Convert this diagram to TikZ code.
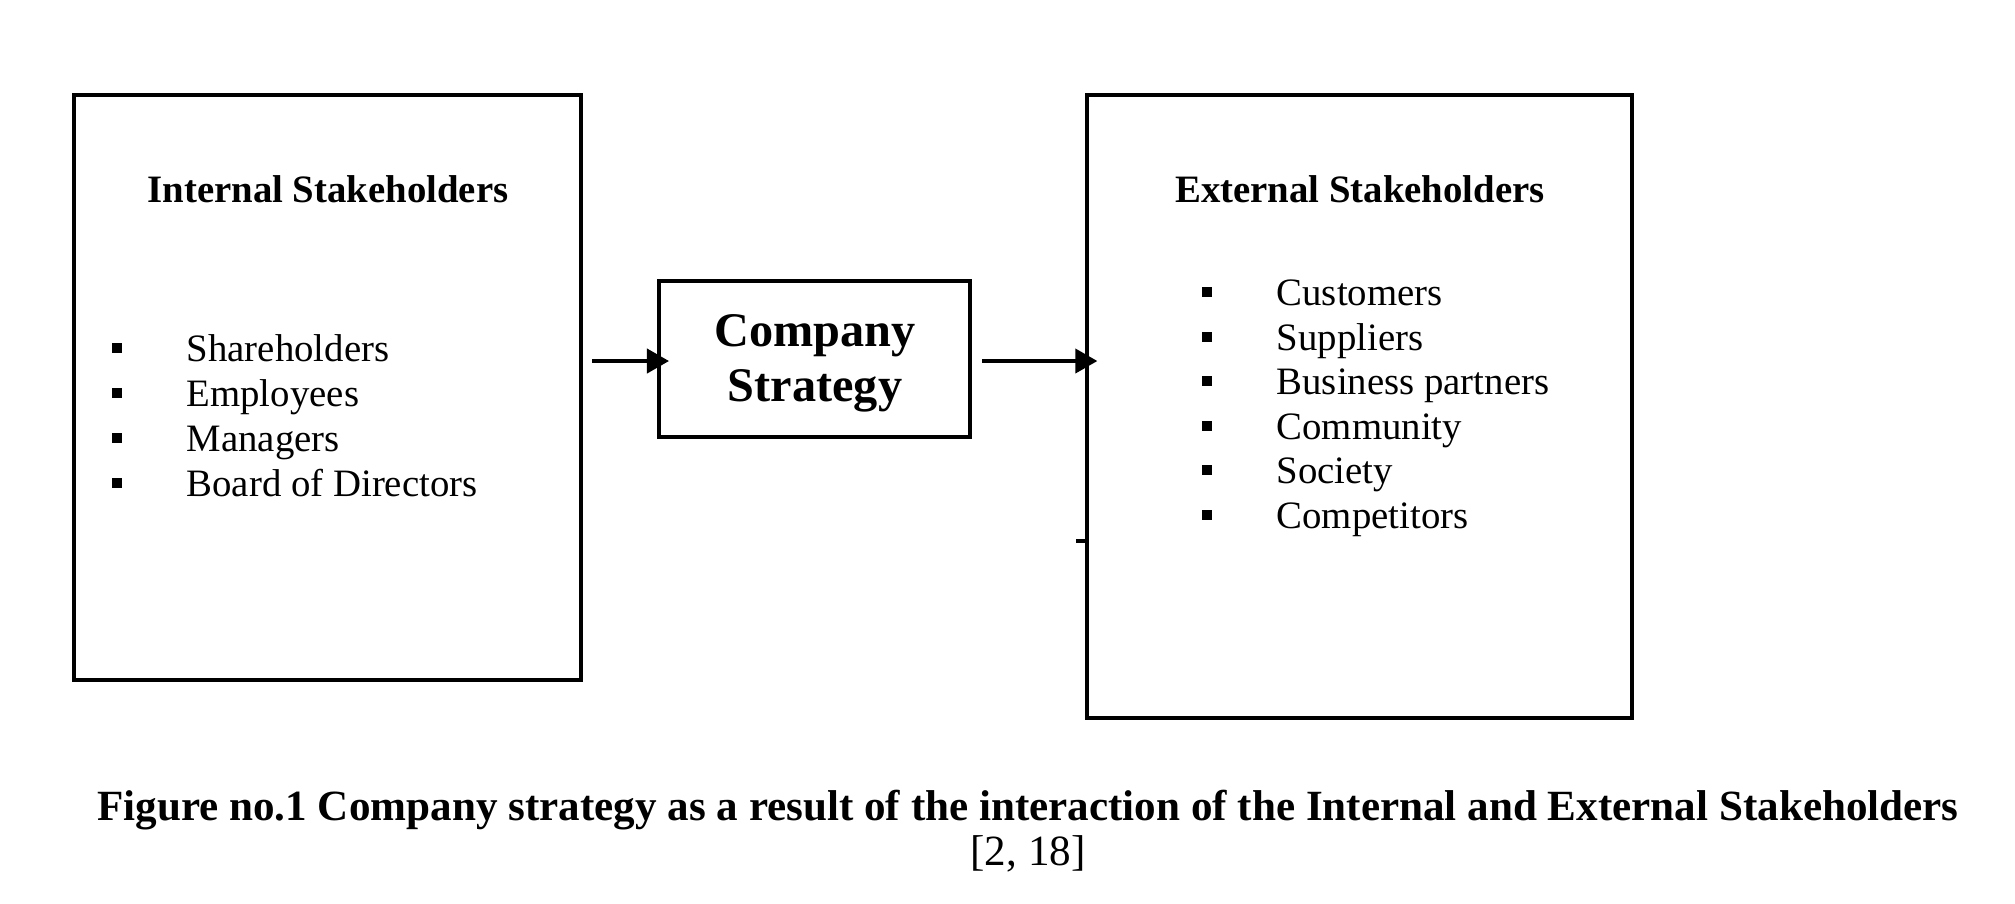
\documentclass[tikz,border=0pt]{standalone}
\usepackage{fontspec}
\setmainfont{Liberation Serif}
\usetikzlibrary{arrows.meta, positioning, fit}

\begin{document}
\begin{tikzpicture}[
  x=0.29pt, y=-0.29pt,
  every node/.style={font=\fontsize{11.25}{13.5}\selectfont},
  box/.style={rectangle, draw=black, line width=1pt, inner sep=0pt},
  title/.style={font=\fontsize{11.25}{13.5}\selectfont\bfseries, anchor=base},
  item/.style={anchor=base west, inner sep=0pt},
  bullet/.style={rectangle, fill=black, inner sep=0pt, minimum size=3.1pt},
  arrow/.style={-{Triangle[length=6.4pt, width=7pt]}, line width=1.1pt, shorten >=-3.5pt}
]
\useasboundingbox (0,0) rectangle (2015,903);

% === BOXES ===
\node[box, fit={(74,95) (581,680)}] (internal) {};
\node[box, fit={(1087,95) (1632,718)}] (external) {};
\node[box, line width=1.2pt, fit={(659,281) (970,437)}] (company) {};
% text sits a bit low in the box
\node[align=center, font=\fontsize{14}{16}\selectfont\bfseries] (comptext) at (815,363) {Company\\Strategy};

% Titles
\node[title] (inttitle) at (328,202) {Internal Stakeholders};
\node[title] (exttitle) at (1360,202) {External Stakeholders};

% === INTERNAL LIST ===
\node[item] (share) at (186,361) {Shareholders};
\node[item] (employ) at (186,406) {Employees};
\node[item] (manage) at (186,451) {Managers};
\node[item] (board) at (186,496) {Board of Directors};
\node[bullet] at (117,348) {};
\node[bullet] at (117,393) {};
\node[bullet] at (117,438) {};
\node[bullet] at (117,483) {};

% === EXTERNAL LIST ===
\node[item] (custom) at (1276,305) {Customers};
\node[item] (suppl) at (1276,350) {Suppliers};
\node[item] (partner) at (1276,394) {Business partners};
\node[item] (commun) at (1276,439) {Community};
\node[item] (society) at (1276,483) {Society};
\node[item] (compet) at (1276,528) {Competitors};
\node[bullet] at (1207,292) {};
\node[bullet] at (1207,337) {};
\node[bullet] at (1207,381) {};
\node[bullet] at (1207,426) {};
\node[bullet] at (1207,470) {};
\node[bullet] at (1207,515) {};

% === ARROWS ===
\coordinate (instart) at (592,361);
\coordinate (outstart) at (982,361);
\draw[arrow] (instart) -- (instart -| company.west);
\draw[arrow] (outstart) -- (outstart -| external.west);

% small tick on the external box
\coordinate (tick) at (1076,541);
\draw[line width=1pt] (tick) -- (tick -| external.west);

% === CAPTION ===
\node[anchor=base, font=\fontsize{12.5}{15}\selectfont\bfseries] (caption) at (1028,820)
  {Figure no.1 Company strategy as a result of the interaction of the Internal and External Stakeholders};
\node[anchor=base, font=\fontsize{12.5}{15}\selectfont] (cite) at (1028,865) {[2, 18]};

\end{tikzpicture}
\end{document}
